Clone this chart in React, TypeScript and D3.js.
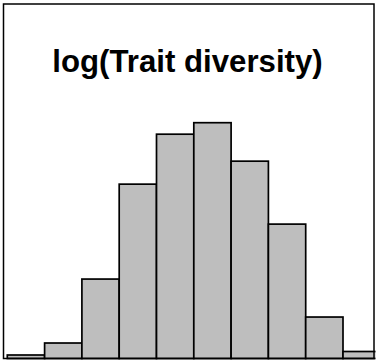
import React from "react";
import * as d3 from "d3";

const title = "log(Trait diversity)";
const binEdges = [-2.5, -2.0, -1.5, -1.0, -0.5, 0.0, 0.5, 1.0, 1.5, 2.0, 2.5];
const counts = [3.5, 15.5, 79.5, 174.5, 224.5, 236, 197.5, 134.5, 41.5, 7];

const W = 377;
const H = 363;
const box = { x0: 3.5, y0: 4, x1: 374, y1: 358.5 };

export default function App() {
  const x = d3.scaleLinear().domain([-2.5, 2.5]).range([7.3, 380.3]);
  const y = d3.scaleLinear().domain([0, 236]).range([358.5, 122.7]);
  const bins = counts.map((c, i) => ({ x0: binEdges[i], x1: binEdges[i + 1], c }));
  return (
    <svg
      width={W}
      height={H}
      style={{ position: "absolute", left: 0, top: 0, display: "block", background: "#fff" }}
    >
      <defs>
        <clipPath id="clipbox">
          <rect x={box.x0} y={box.y0 - 2} width={box.x1 - box.x0 + 1.5} height={box.y1 - box.y0 + 4} />
        </clipPath>
      </defs>
      <g clipPath="url(#clipbox)">
        {bins.map((b, i) => (
          <rect
            key={i}
            x={x(b.x0)}
            y={y(b.c)}
            width={x(b.x1) - x(b.x0)}
            height={y(0) - y(b.c)}
            fill="#bebebe"
            stroke="#000"
            strokeWidth={1.7}
          />
        ))}
      </g>
      <rect
        x={box.x0}
        y={box.y0}
        width={box.x1 - box.x0}
        height={box.y1 - box.y0}
        fill="none"
        stroke="#000"
        strokeWidth={1.5}
      />
      <text
        x={187.5}
        y={72}
        textAnchor="middle"
        fontFamily="'Liberation Sans', Arial, sans-serif"
        fontWeight="bold"
        fontSize={31.2}
        fill="#000"
      >
        {title}
      </text>
    </svg>
  );
}
